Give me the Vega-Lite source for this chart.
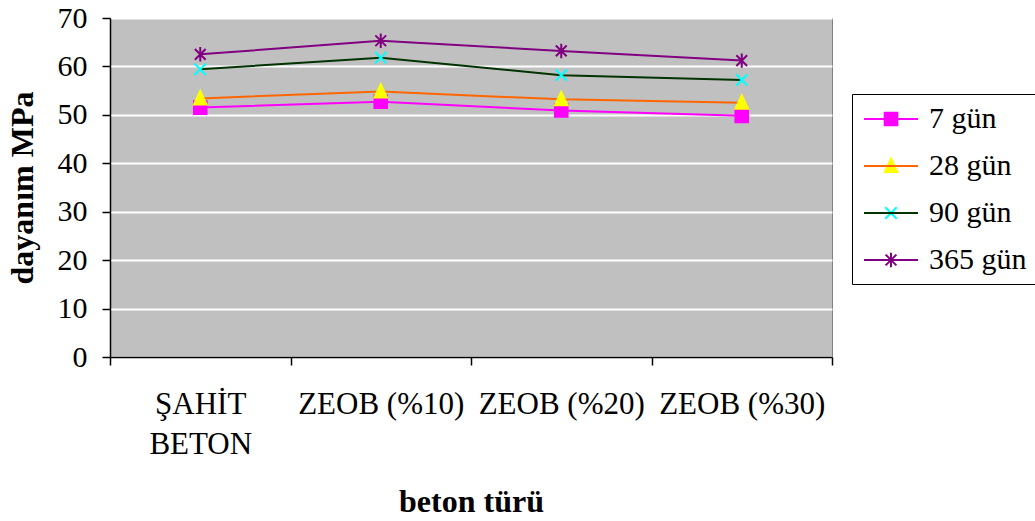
{
  "$schema": "https://vega.github.io/schema/vega-lite/v6.json",
  "width": 722,
  "height": 339,
  "autosize": {"type": "none"},
  "padding": {"left": 110, "top": 18, "right": 203, "bottom": 164},
  "background": "white",
  "config": {
    "font": "Liberation Serif",
    "view": {"fill": "#C0C0C0", "stroke": "#808080", "strokeWidth": 1},
    "axis": {
      "domainColor": "black",
      "domainWidth": 1.5,
      "tickColor": "black",
      "tickWidth": 1.5,
      "labelColor": "black",
      "labelFontSize": 30,
      "labelFont": "Liberation Serif",
      "titleFont": "Liberation Serif",
      "titleFontSize": 32,
      "titleFontWeight": "bold",
      "titleColor": "black"
    },
    "legend": {"labelFont": "Liberation Serif"}
  },
  "data": {
    "values": [
      {"tur": "ŞAHİT BETON", "seri": "7 gün", "deger": 51.5},
      {"tur": "ZEOB (%10)", "seri": "7 gün", "deger": 52.7},
      {"tur": "ZEOB (%20)", "seri": "7 gün", "deger": 50.9},
      {"tur": "ZEOB (%30)", "seri": "7 gün", "deger": 49.8},
      {"tur": "ŞAHİT BETON", "seri": "28 gün", "deger": 53.4},
      {"tur": "ZEOB (%10)", "seri": "28 gün", "deger": 54.8},
      {"tur": "ZEOB (%20)", "seri": "28 gün", "deger": 53.2},
      {"tur": "ZEOB (%30)", "seri": "28 gün", "deger": 52.5},
      {"tur": "ŞAHİT BETON", "seri": "90 gün", "deger": 59.4},
      {"tur": "ZEOB (%10)", "seri": "90 gün", "deger": 61.8},
      {"tur": "ZEOB (%20)", "seri": "90 gün", "deger": 58.2},
      {"tur": "ZEOB (%30)", "seri": "90 gün", "deger": 57.2},
      {"tur": "ŞAHİT BETON", "seri": "365 gün", "deger": 62.5},
      {"tur": "ZEOB (%10)", "seri": "365 gün", "deger": 65.3},
      {"tur": "ZEOB (%20)", "seri": "365 gün", "deger": 63.2},
      {"tur": "ZEOB (%30)", "seri": "365 gün", "deger": 61.2}
    ]
  },
  "encoding": {
    "x": {
      "field": "tur",
      "type": "nominal",
      "sort": ["ŞAHİT BETON", "ZEOB (%10)", "ZEOB (%20)", "ZEOB (%30)"],
      "scale": {"type": "band", "paddingInner": 0, "paddingOuter": 0},
      "axis": {
        "title": "beton türü",
        "labelAngle": 0,
        "tickBand": "extent",
        "tickSize": 8,
        "labelPadding": 24,
        "labelFontSize": 31,
        "labelLineHeight": 40,
        "labelExpr": "datum.value == 'ŞAHİT BETON' ? ['ŞAHİT', 'BETON'] : datum.value",
        "titlePadding": 27,
        "grid": false
      }
    },
    "y": {
      "field": "deger",
      "type": "quantitative",
      "scale": {"domain": [0, 70], "nice": false},
      "axis": {
        "title": "dayanım MPa",
        "values": [0, 10, 20, 30, 40, 50, 60, 70],
        "tickSize": 8,
        "labelPadding": 15,
        "grid": true,
        "gridColor": "white",
        "gridWidth": 2,
        "titlePadding": 18
      }
    }
  },
  "layer": [
    {
      "mark": {"type": "line", "strokeWidth": 2},
      "encoding": {
        "color": {
          "field": "seri",
          "type": "nominal",
          "scale": {
            "domain": ["7 gün", "28 gün", "90 gün", "365 gün"],
            "range": ["#FF00FF", "#FF6600", "#003300", "#800080"]
          },
          "legend": {
            "orient": "none",
            "legendX": 742,
            "legendY": 76,
            "title": null,
            "symbolType": "M-1.8,0L1.8,0",
            "symbolSize": 900,
            "symbolStrokeWidth": 2,
            "labelFontSize": 30,
            "labelColor": "black",
            "labelOffset": 22,
            "rowPadding": 16,
            "padding": 9,
            "strokeColor": "black",
            "symbolOffset": 14
          }
        }
      }
    },
    {
      "mark": {"type": "point", "size": 900, "strokeWidth": 2, "opacity": 1},
      "encoding": {
        "shape": {
          "field": "seri",
          "type": "nominal",
          "scale": {
            "domain": ["7 gün", "28 gün", "90 gün", "365 gün"],
            "range": [
              "M-0.42,-0.42H0.42V0.42H-0.42Z",
              "M0,-0.5L0.42,0.4L-0.42,0.4Z",
              "M-0.38,-0.38L0.38,0.38M-0.38,0.38L0.38,-0.38",
              "M-0.36,-0.36L0.36,0.36M-0.36,0.36L0.36,-0.36M0,-0.48L0,0.48"
            ]
          },
          "legend": {
            "orient": "none",
            "legendX": 742,
            "legendY": 76,
            "title": null,
            "symbolSize": 900,
            "symbolStrokeWidth": 2,
            "labelFontSize": 30,
            "labelOpacity": 0,
            "labelOffset": 22,
            "rowPadding": 16,
            "padding": 9,
            "symbolOffset": 14
          }
        },
        "fill": {
          "field": "seri",
          "type": "nominal",
          "scale": {
            "domain": ["7 gün", "28 gün", "90 gün", "365 gün"],
            "range": ["#FF00FF", "#FFFF00", "#00FFFF", "#800080"]
          },
          "legend": {
            "orient": "none",
            "legendX": 742,
            "legendY": 76,
            "title": null,
            "symbolSize": 900,
            "symbolStrokeWidth": 2,
            "labelFontSize": 30,
            "labelOpacity": 0,
            "labelOffset": 22,
            "rowPadding": 16,
            "padding": 9,
            "symbolOffset": 14
          }
        },
        "stroke": {
          "field": "seri",
          "type": "nominal",
          "scale": {
            "domain": ["7 gün", "28 gün", "90 gün", "365 gün"],
            "range": ["#FF00FF", "#FFFF00", "#00FFFF", "#800080"]
          },
          "legend": {
            "orient": "none",
            "legendX": 742,
            "legendY": 76,
            "title": null,
            "symbolSize": 900,
            "symbolStrokeWidth": 2,
            "labelFontSize": 30,
            "labelOpacity": 0,
            "labelOffset": 22,
            "rowPadding": 16,
            "padding": 9,
            "symbolOffset": 14
          }
        }
      }
    }
  ],
  "resolve": {"scale": {"color": "independent"}, "legend": {"color": "independent"}}
}
